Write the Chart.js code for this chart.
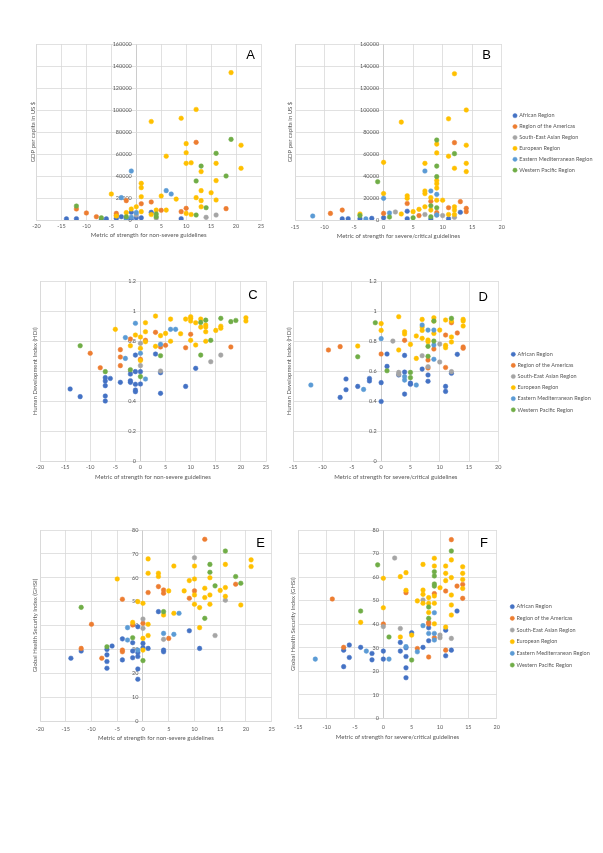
<!DOCTYPE html>
<html>
<head>
<meta charset="utf-8">
<script src="https://cdn.jsdelivr.net/npm/chart.js@4.4.1/dist/chart.umd.min.js"></script>
<style>
  body { margin: 0; background: #fff; }
  #page { position: relative; width: 603px; height: 853px; overflow: hidden; }
  #page canvas { position: absolute; }
</style>
</head>
<body>
<div id="page"></div>
<script>
// regions (series) shared by all six panels
const regionNames = ['African Region', 'Region of the Americas', 'South-East Asian Region',
  'European Region', 'Eastern Mediterranean Region', 'Western Pacific Region'];

const xTickLabelsNonSevere = [-20, -15, -10, -5, 0, 5, 10, 15, 20, 25];
const xTickLabelsSevere = [-15, -10, -5, 0, 5, 10, 15, 20];

// A: GDP vs non-severe metric
const gdpNonSevereAFR = [[-14,1000],[-12,1200],[-7,300],[-6,1000],[-4,1500],[-3,3000],[-2,1500],[-1,7000],[-1,500],[0,2000],[1,2000],[3,7000],[9,1200]];
const gdpNonSevereAMR = [[-12,10000],[-10,6400],[-8,3000],[-4,6000],[-4,4200],[-2,17600],[1,14800],[3,16400],[5,8800],[9,7600],[10,10600],[12,70600],[18,10300]];
const gdpNonSevereSEAR = [[0,4500],[4,1800],[14,2400],[16,4500]];
const gdpNonSevereEUR = [[19,134000],[12,100500],[3,89500],[9,92500],[10,69400],[10,61200],[10,51500],[11,52000],[6,58000],[21,68000],[21,47000],[16,51500],[13,44000],[16,35800],[1,33300],[1,29400],[1,21200],[-5,23600],[5,21800],[8,19000],[12,20300],[13,26700],[15,24800],[13,17600],[16,18200],[13,12000],[0,12000],[-1,10000],[1,7600],[4,9000],[6,9000],[3,5000],[10,6000],[11,5000],[-2,6700],[-4,3600]];
const gdpNonSevereEMR = [[-1,44500],[-3,20300],[6,26700],[7,23600],[0,6700],[-2,1000],[-1,2500]];
const gdpNonSevereWPR = [[19,73300],[16,60600],[13,49000],[12,35500],[18,40000],[14,11200],[12,4500],[-12,12700],[-7,2000],[-2,3000],[4,3000],[4,5500]];

// B: GDP vs severe/critical metric
const gdpSevereAFR = [[-7,1000],[-6,1200],[-4,1200],[-2,1500],[0,2000],[4,8000],[4,1200],[8,1000],[11,1200],[13,7000]];
const gdpSevereAMR = [[-9,6000],[-7,9000],[0,6000],[4,15000],[6,4000],[8,17000],[9,6700],[11,11200],[12,70300],[13,16700],[14,10600],[14,7600]];
const gdpSevereSEAR = [[2,7300],[7,5000],[9,4500],[10,4000],[12,2400]];
const gdpSevereEUR = [[12,133000],[14,100000],[11,92000],[3,89000],[9,69000],[9,61000],[11,58000],[12,47000],[14,68000],[14,51500],[14,44000],[7,51500],[0,52400],[0,24000],[4,22000],[4,19700],[7,26400],[7,24000],[9,35800],[9,33000],[9,29000],[9,18000],[8,20300],[10,18000],[12,12000],[12,9000],[7,12000],[6,9700],[5,7600],[3,5500],[-4,5500],[11,5000],[12,5000],[8,9000]];
const gdpSevereEMR = [[-12,3600],[-3,1000],[0,19700],[1,6400],[7,44500],[8,26400],[9,23300],[9,4500]];
const gdpSevereWPR = [[-4,4000],[-1,34800],[1,2700],[5,2000],[8,13000],[8,3000],[9,72700],[9,49000],[9,39400],[9,11200],[12,60300]];

// C: HDI vs non-severe metric
const hdiNonSevereAFR = [[-14,0.483],[-12,0.432],[-7,0.558],[-7,0.536],[-7,0.505],[-7,0.436],[-7,0.403],[-6,0.553],[-4,0.527],[-2,0.582],[-2,0.538],[-2,0.527],[-1,0.708],[-1,0.598],[-1,0.514],[-1,0.476],[-1,0.465],[0,0.516],[0,0.598],[3,0.715],[4,0.591],[4,0.454],[9,0.5],[11,0.62]];
const hdiNonSevereAMR = [[-10,0.72],[-8,0.624],[-4,0.744],[-4,0.695],[-4,0.638],[-2,0.815],[0,0.68],[1,0.806],[3,0.859],[4,0.762],[5,0.773],[9,0.757],[10,0.846],[18,0.762]];
const hdiNonSevereSEAR = [[0,0.786],[0,0.638],[4,0.602],[14,0.664],[16,0.708]];
const hdiNonSevereEUR = [[3,0.967],[-5,0.879],[1,0.923],[1,0.863],[1,0.797],[-1,0.841],[0,0.828],[0,0.753],[-2,0.77],[0,0.672],[3,0.766],[4,0.837],[5,0.852],[6,0.8],[6,0.947],[8,0.85],[9,0.947],[10,0.963],[10,0.952],[10,0.934],[10,0.806],[11,0.923],[11,0.775],[12,0.947],[12,0.894],[13,0.908],[13,0.894],[13,0.863],[13,0.8],[15,0.872],[16,0.9],[16,0.886],[21,0.956],[21,0.934]];
const hdiNonSevereEMR = [[-1,0.919],[-3,0.824],[-3,0.686],[0,0.72],[1,0.549],[4,0.78],[6,0.879],[7,0.879]];
const hdiNonSevereWPR = [[-12,0.77],[-7,0.598],[-2,0.611],[0,0.565],[4,0.704],[12,0.925],[12,0.708],[13,0.94],[14,0.806],[16,0.952],[18,0.93],[19,0.938]];

// D: HDI vs severe/critical metric
const hdiSevereAFR = [[-7,0.427],[-6,0.549],[-6,0.478],[-4,0.5],[-2,0.553],[-2,0.536],[0,0.525],[0,0.4],[1,0.633],[1,0.715],[3,0.576],[4,0.706],[4,0.595],[4,0.449],[5,0.522],[5,0.514],[7,0.615],[8,0.576],[8,0.534],[11,0.5],[11,0.467],[12,0.587],[13,0.713]];
const hdiSevereAMR = [[-9,0.742],[-7,0.764],[0,0.715],[4,0.806],[8,0.675],[8,0.622],[9,0.748],[11,0.841],[11,0.626],[12,0.923],[13,0.855],[14,0.762],[14,0.753]];
const hdiSevereSEAR = [[2,0.801],[3,0.593],[3,0.58],[7,0.704],[8,0.631],[10,0.781],[10,0.662],[12,0.598]];
const hdiSevereEUR = [[3,0.963],[0,0.917],[0,0.872],[-4,0.768],[3,0.742],[4,0.863],[4,0.848],[5,0.779],[6,0.835],[6,0.686],[7,0.945],[7,0.894],[7,0.872],[7,0.819],[8,0.808],[8,0.797],[9,0.956],[9,0.934],[9,0.852],[10,0.874],[11,0.941],[11,0.773],[11,0.757],[12,0.828],[12,0.795],[12,0.934],[14,0.945],[14,0.934],[14,0.901]];
const hdiSevereEMR = [[-12,0.509],[-3,0.48],[0,0.817],[4,0.565],[4,0.542],[6,0.509],[7,0.908],[8,0.874],[9,0.874],[9,0.775],[9,0.68]];
const hdiSevereWPR = [[-1,0.923],[-4,0.697],[1,0.604],[5,0.593],[5,0.558],[8,0.766],[8,0.7],[9,0.934],[9,0.801],[12,0.952]];

// E: GHSI vs non-severe metric
const ghsiNonSevereAFR = [[-14,26.3],[-12,29.3],[-7,30],[-7,27.7],[-7,24.9],[-7,22.1],[-6,31.4],[-4,34.4],[-4,25.6],[-2,32.8],[-2,29.3],[-2,26.5],[-1,39.5],[-1,28.6],[-1,27],[-1,21.8],[-1,17.5],[0,32.5],[0,30.7],[1,30.4],[3,45.8],[4,29.7],[4,29],[9,37.8],[11,30.4]];
const ghsiNonSevereAMR = [[-12,30.4],[-10,40.5],[-8,26.3],[-4,51],[-4,29.7],[-4,29],[-2,40.2],[0,40.9],[1,53.8],[3,56.3],[4,54.9],[4,53.5],[5,34.6],[9,51.4],[10,54.5],[12,76.1],[18,57.3]];
const ghsiNonSevereSEAR = [[0,42.7],[0,38.8],[4,34.2],[10,68.4],[14,35.8],[16,50.6]];
const ghsiNonSevereEUR = [[1,67.9],[1,61.9],[-5,59.5],[-1,50],[0,49.3],[3,61.9],[3,60.5],[6,64.9],[5,54.5],[8,54.5],[9,58.8],[10,64.9],[10,59.5],[10,52.8],[10,48.9],[11,47.5],[11,39.1],[12,55.6],[12,51.7],[13,60],[13,52.8],[13,48.9],[15,54.7],[16,65.6],[16,55.9],[16,52.2],[19,48.6],[21,67.5],[21,64.7],[4,44.4],[6,45.1],[1,40.5],[1,35.8],[0,34.6],[0,29.7],[-2,41.3]];
const ghsiNonSevereEMR = [[-3,39.1],[-3,33.9],[-1,29.7],[4,36.7],[6,36.3],[7,45.1]];
const ghsiNonSevereWPR = [[-12,47.6],[-7,31.1],[-2,34.9],[0,25.3],[4,45.8],[12,43],[13,65.6],[13,62.3],[14,56.6],[16,71.2],[18,60.5],[19,57.7]];

// F: GHSI vs severe/critical metric
const ghsiSevereAFR = [[-7,29],[-7,22],[-6,31.2],[-6,25.9],[-4,30.2],[-2,27.6],[-2,24.9],[0,28.6],[0,25.2],[3,32.3],[3,28.6],[4,30],[4,26.3],[4,21.5],[4,17.3],[5,36.4],[7,30.2],[8,33],[8,38.5],[11,37.5],[11,26.6],[12,29],[13,45.6]];
const ghsiSevereAMR = [[-9,50.7],[-7,30.2],[0,40.1],[4,53.4],[6,29.7],[8,40.8],[8,40.1],[8,26.1],[9,53],[9,34.3],[11,54.1],[11,29],[12,75.9],[13,56.2],[14,56.9],[14,51]];
const ghsiSevereSEAR = [[0,39],[2,68.1],[3,38.2],[7,50.3],[10,35.4],[10,34.3],[12,34]];
const ghsiSevereEUR = [[0,59.5],[0,47],[-4,40.8],[3,60.2],[4,61.9],[4,54.4],[3,34.6],[5,35.4],[6,49.9],[7,65.4],[7,54.5],[7,52.7],[7,48.9],[8,51.3],[8,48.9],[8,45],[9,68],[9,64.7],[9,52],[9,48.9],[9,40.2],[10,55.5],[11,64.7],[11,61.6],[11,58.5],[11,38.8],[12,67.3],[12,59.8],[12,52.4],[12,48.2],[12,43.9],[14,64.4],[14,61.6],[14,59],[14,55.2]];
const ghsiSevereEMR = [[-12,25.2],[-3,28.6],[1,25.2],[4,30.5],[6,28.3],[7,39.4],[8,36.1],[9,44.9],[9,36.1],[9,33.3]];
const ghsiSevereWPR = [[-1,65.2],[-4,45.6],[1,34.6],[5,24.8],[8,47.3],[8,42.5],[9,62.3],[9,60.5],[9,57.1],[9,56.2],[12,71.1]];

// Excel-like palette
const regionColors = ['#4472C4', '#ED7D31', '#A5A5A5', '#FFC000', '#5B9BD5', '#70AD47'];
const FONT = 'Lato, "Liberation Sans", sans-serif';
const TEXT = '#595959';
const GRID = '#d9d9d9';
const AXIS = '#bfbfbf';
const LEGEND_FS = 5.5;
const LEGEND_BOX = 40; // reserved legend width; text may run further right

// y tick labels sit next to the x = 0 line, like Excel's crossing axis
const yLabelsAtZero = {
    id: 'yLabelsAtZero',
    beforeDatasetsDraw(chart) {
        const { ctx, scales: { x, y } } = chart;
        const px = x.getPixelForValue(0) - 4.5;
        ctx.save();
        ctx.font = '5.5px ' + FONT;
        ctx.fillStyle = TEXT;
        ctx.textAlign = 'right';
        ctx.textBaseline = 'middle';
        y.ticks.forEach(t => ctx.fillText(String(+t.value.toFixed(2)), px, y.getPixelForValue(t.value)));
        ctx.restore();
    }
};

// let the legend text run to the canvas edge instead of being clipped
const legendToEdge = {
    id: 'legendToEdge',
    afterLayout(chart) {
        const lg = chart.legend;
        if (lg && lg.options.display) {
            lg.right = chart.width;
            lg.width = lg.right - lg.left;
        }
    }
};

// panel letter (A-F)
const panelTag = {
    id: 'panelTag',
    afterDraw(chart, args, opts) {
        if (!opts.text) return;
        const ctx = chart.ctx;
        ctx.save();
        ctx.font = '13px "Liberation Sans", Arial, sans-serif';
        ctx.fillStyle = '#000';
        ctx.textAlign = 'center';
        ctx.textBaseline = 'middle';
        ctx.fillText(opts.text, opts.x, opts.y);
        ctx.restore();
    }
};

function makePanel(p) {
    const yW = p.L - p.yTitleX + 3.6;
    const cLeft = Math.floor(p.L) - 20;
    const cTop = Math.floor(p.T) - 8;
    let Lb, cRight, padR, gapW = 0, lp = 5;
    if (p.legend) {
        lp = p.pitch - LEGEND_FS;
        Lb = 2 * (p.legendY - LEGEND_FS / 2) - lp + 6 * p.pitch - p.T;
        gapW = p.legendX - p.R - lp - 1.5;
        cRight = 603;
        padR = cRight - (p.R + gapW + LEGEND_BOX);
    } else {
        Lb = p.xTitleY + 3.6;
        cRight = Math.ceil(p.R) + 8;
        padR = cRight - p.R;
    }
    const cBottom = Math.ceil(Lb) + 2;
    const xH = Lb - p.B;
    const titlePad = Math.max(0, Lb - 3.6 - p.xTitleY);
    const tickPad = p.xTickY - p.B - 3.3;

    const canvas = document.createElement('canvas');
    canvas.width = cRight - cLeft;
    canvas.height = cBottom - cTop;
    canvas.style.left = cLeft + 'px';
    canvas.style.top = cTop + 'px';
    document.getElementById('page').appendChild(canvas);

    const scales = {
        x: {
            type: 'linear', min: p.xTicks[0], max: p.xTicks[p.xTicks.length - 1],
            afterFit: s => { s.height = xH; },
            afterBuildTicks: s => { s.ticks = p.xTicks.map(v => ({ value: v })); },
            ticks: { autoSkip: false, maxRotation: 0, color: TEXT, padding: tickPad,
                     font: { family: FONT, size: 5.5 } },
            grid: { color: c => (c.tick && c.tick.value === 0 ? AXIS : GRID), drawTicks: false, lineWidth: 0.8 },
            border: { color: GRID, width: 0.8 },
            title: { display: true, text: p.xTitle, color: TEXT, font: { family: FONT, size: 6 },
                     padding: { top: 0, bottom: titlePad } }
        },
        y: {
            type: 'linear', min: 0, max: p.yMax,
            afterFit: s => { s.width = yW; },
            ticks: { stepSize: p.yStep, display: false },
            grid: { color: GRID, drawTicks: false, lineWidth: 0.8 },
            border: { color: GRID, width: 0.8 },
            title: { display: true, text: p.yTitle, color: TEXT, font: { family: FONT, size: 6 },
                     padding: { top: 0, bottom: 0 } }
        }
    };
    if (p.legend) {
        // empty spacer between plot area and legend
        scales.gap = {
            type: 'linear', position: 'right', display: true,
            afterFit: s => { s.width = gapW; },
            grid: { display: false }, border: { display: false }, ticks: { display: false }
        };
    }

    new Chart(canvas, {
        type: 'scatter',
        data: {
            datasets: p.series.map((data, i) => ({
                label: regionNames[i],
                data: data.map(([x, y]) => ({ x, y })),
                backgroundColor: regionColors[i],
                borderColor: regionColors[i],
                borderWidth: 0.5,
                pointRadius: 2.3,
                pointHoverRadius: 2.3,
                order: 5 - i
            }))
        },
        options: {
            responsive: false,
            animation: false,
            events: [],
            layout: { padding: { left: p.L - cLeft - yW, top: p.T - cTop, right: padR, bottom: cBottom - Lb } },
            scales: scales,
            plugins: {
                tooltip: { enabled: false },
                legend: p.legend ? {
                    display: true, position: 'right', align: 'center', reverse: true, maxWidth: LEGEND_BOX,
                    labels: { usePointStyle: true, pointStyle: 'circle', boxWidth: 3, boxHeight: 3,
                              padding: lp, color: TEXT, font: { family: FONT, size: LEGEND_FS } }
                } : { display: false },
                panelTag: { text: p.tag, x: p.tagX - cLeft, y: p.tagY - cTop }
            }
        },
        plugins: [yLabelsAtZero, legendToEdge, panelTag]
    });
}

const xNonSevere = 'Metric of strength for non-severe guidelines';
const xSevere = 'Metric of strength for severe/critical guidelines';

makePanel({ tag: 'A', tagX: 250.7, tagY: 55, L: 36.5, R: 261, T: 44, B: 220, yTitleX: 33, xTickY: 226.5, xTitleY: 235.5,
    xTicks: xTickLabelsNonSevere, yMax: 160000, yStep: 20000, xTitle: xNonSevere, yTitle: 'GDP per capita in US $',
    series: [gdpNonSevereAFR, gdpNonSevereAMR, gdpNonSevereSEAR, gdpNonSevereEUR, gdpNonSevereEMR, gdpNonSevereWPR] });

makePanel({ tag: 'B', tagX: 486.7, tagY: 55, L: 295, R: 501.7, T: 44, B: 220, yTitleX: 290, xTickY: 227, xTitleY: 236.5,
    legend: true, legendX: 515, legendY: 115.7, pitch: 10.9,
    xTicks: xTickLabelsSevere, yMax: 160000, yStep: 20000, xTitle: xSevere, yTitle: 'GDP per capita in US $',
    series: [gdpSevereAFR, gdpSevereAMR, gdpSevereSEAR, gdpSevereEUR, gdpSevereEMR, gdpSevereWPR] });

makePanel({ tag: 'C', tagX: 253, tagY: 295.7, L: 40, R: 266, T: 281, B: 461.7, yTitleX: 35, xTickY: 467.7, xTitleY: 477.5,
    xTicks: xTickLabelsNonSevere, yMax: 1.2, yStep: 0.2, xTitle: xNonSevere, yTitle: 'Human Development Index (HDI)',
    series: [hdiNonSevereAFR, hdiNonSevereAMR, hdiNonSevereSEAR, hdiNonSevereEUR, hdiNonSevereEMR, hdiNonSevereWPR] });

makePanel({ tag: 'D', tagX: 483.3, tagY: 297, L: 293.3, R: 498.3, T: 281, B: 461.7, yTitleX: 289.3, xTickY: 467, xTitleY: 477.5,
    legend: true, legendX: 513.3, legendY: 354.3, pitch: 11.1,
    xTicks: xTickLabelsSevere, yMax: 1.2, yStep: 0.2, xTitle: xSevere, yTitle: 'Human Development Index (HDI)',
    series: [hdiSevereAFR, hdiSevereAMR, hdiSevereSEAR, hdiSevereEUR, hdiSevereEMR, hdiSevereWPR] });

makePanel({ tag: 'E', tagX: 260.7, tagY: 543.3, L: 40, R: 271.7, T: 530, B: 721, yTitleX: 35, xTickY: 729, xTitleY: 738.3,
    xTicks: xTickLabelsNonSevere, yMax: 80, yStep: 10, xTitle: xNonSevere, yTitle: 'Global Health Security Index (GHSI)',
    series: [ghsiNonSevereAFR, ghsiNonSevereAMR, ghsiNonSevereSEAR, ghsiNonSevereEUR, ghsiNonSevereEMR, ghsiNonSevereWPR] });

makePanel({ tag: 'F', tagX: 484, tagY: 543, L: 298.3, R: 496.7, T: 530, B: 718.5, yTitleX: 293.3, xTickY: 727.5, xTitleY: 737.3,
    legend: true, legendX: 512.3, legendY: 606.7, pitch: 11.67,
    xTicks: xTickLabelsSevere, yMax: 80, yStep: 10, xTitle: xSevere, yTitle: 'Global Health Security Index (GHSI)',
    series: [ghsiSevereAFR, ghsiSevereAMR, ghsiSevereSEAR, ghsiSevereEUR, ghsiSevereEMR, ghsiSevereWPR] });
</script>
</body>
</html>
